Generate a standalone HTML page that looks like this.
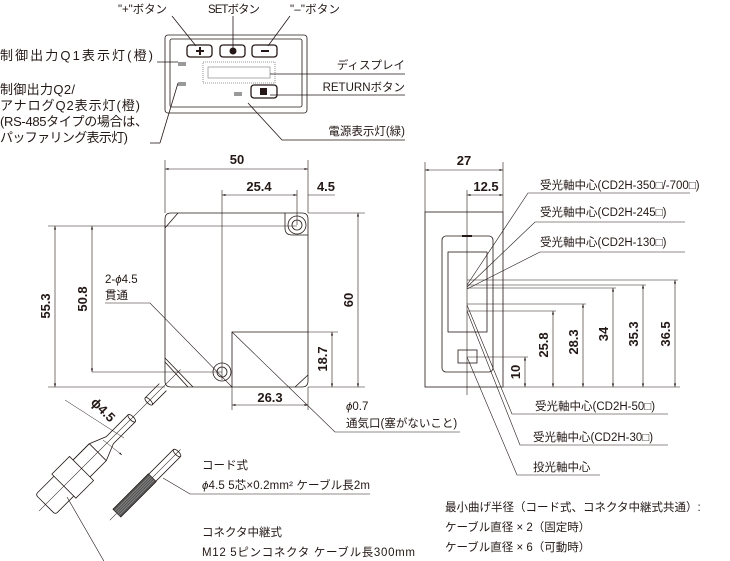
<!DOCTYPE html>
<html><head><meta charset="utf-8"><style>
html,body{margin:0;padding:0;background:#fff;width:730px;height:561px;overflow:hidden}
svg{display:block}
text{font-family:"Liberation Sans","Noto Sans CJK JP",sans-serif;fill:#231815;font-size:11.5px}
.b{font-weight:bold;font-size:13px}
.l{font-size:13px}
</style></head><body>
<svg width="730" height="561" viewBox="0 0 730 561" xmlns="http://www.w3.org/2000/svg">
<defs><marker id="a" viewBox="0 0 10 10" refX="10" refY="5" markerWidth="6" markerHeight="6" orient="auto-start-reverse"><path d="M0,2L10,5L0,8z" fill="#231815"/></marker></defs>
<g stroke="#231815" fill="none" stroke-width="0.8">
<rect x="165" y="35" width="142" height="78" rx="3"/>
<rect x="170" y="39" width="132" height="68" rx="2"/>
<rect x="187" y="45" width="25" height="12" rx="3" stroke-width="1.3"/>
<rect x="220" y="45" width="25" height="12" rx="3" stroke-width="1.3"/>
<rect x="252" y="45" width="25" height="12" rx="3" stroke-width="1.3"/>
<rect x="203" y="62" width="72" height="21" stroke-dasharray="1 1" stroke="#777"/>
<rect x="208" y="67" width="62" height="11" stroke="#999"/>
<rect x="251" y="85" width="26" height="13" rx="3" stroke-width="1.3"/>
<line x1="157" y1="62" x2="178" y2="62"/>
<line x1="160" y1="143" x2="178" y2="83"/>
<line x1="160" y1="143" x2="150" y2="143"/>
<line x1="172" y1="16" x2="196" y2="46"/>
<line x1="233" y1="16" x2="233" y2="48"/>
<line x1="290" y1="16" x2="268" y2="46"/>
<line x1="270" y1="74" x2="405" y2="74"/>
<line x1="270" y1="95" x2="405" y2="95"/>
<polyline points="248,103 282,140 405,140"/>
<path d="M171,213H302Q308,213 308,219V381Q308,387 302,387H171Q165,387 165,381V219Q165,213 171,213Z"/>
<line x1="165" y1="228" x2="178" y2="213"/>
<line x1="295" y1="387" x2="308" y2="375"/>
<path d="M285,213V228Q285,235 292,235H308"/>
<circle cx="297" cy="225" r="9"/><circle cx="297" cy="225" r="5"/>
<circle cx="222" cy="372" r="9"/><circle cx="222" cy="372" r="5"/>
<path d="M165,358L193,387"/><path d="M165,362L188,387"/>
<polyline points="232,387 232,332 308,332"/>
<g stroke-width="0.6">
<line x1="165" y1="213" x2="165" y2="160"/><line x1="308" y1="213" x2="308" y2="160"/>
<line x1="165" y1="169" x2="308" y2="169" marker-start="url(#a)" marker-end="url(#a)"/>
<line x1="222" y1="190" x2="222" y2="380"/><line x1="297" y1="190" x2="297" y2="225"/>
<line x1="222" y1="195" x2="297" y2="195" marker-start="url(#a)" marker-end="url(#a)"/>
<line x1="308" y1="195" x2="335" y2="195"/>
<line x1="308" y1="213" x2="365" y2="213"/><line x1="308" y1="387" x2="365" y2="387"/>
<line x1="358" y1="213" x2="358" y2="387" marker-start="url(#a)" marker-end="url(#a)"/>
<line x1="48" y1="226" x2="297" y2="226"/><line x1="48" y1="387" x2="165" y2="387"/>
<line x1="55" y1="226" x2="55" y2="387" marker-start="url(#a)" marker-end="url(#a)"/>
<line x1="92" y1="372" x2="222" y2="372"/>
<line x1="92" y1="226" x2="92" y2="372" marker-start="url(#a)" marker-end="url(#a)"/>
<line x1="308" y1="332" x2="338" y2="332"/>
<line x1="332" y1="332" x2="332" y2="387" marker-start="url(#a)" marker-end="url(#a)"/>
<line x1="232" y1="387" x2="232" y2="410"/><line x1="308" y1="387" x2="308" y2="410"/>
<line x1="232" y1="405" x2="308" y2="405" marker-start="url(#a)" marker-end="url(#a)"/>
<polyline points="105,303 150,303 232,387"/>
<polyline points="232,332 335,432 460,432"/>
</g>
<g transform="translate(177,373) rotate(135)">
<line x1="-5" y1="0" x2="195" y2="0" stroke-width="0.5"/>
<path d="M20,-5H40M20,5H40"/>
<ellipse cx="40" cy="0" rx="2" ry="5"/>
<path d="M64,-5H95L112,-12H135M64,5H95L112,12H135M135,-17H160V17H135Z M112,-12V12"/>
<path d="M112,12H135"/>
<ellipse cx="64" cy="0" rx="2" ry="5"/>
<path d="M160,-14H183Q186,-14 186,-11V11Q186,14 183,14H160"/>
</g>
<g stroke-width="0.5">
<line x1="65" y1="400" x2="124" y2="438"/>
<line x1="103" y1="440" x2="122" y2="455" marker-end="url(#a)"/>
</g>
<g transform="translate(177,453) rotate(135)">
<line x1="-5" y1="0" x2="95" y2="0" stroke-width="0.5"/>
<path d="M0,-5H35M0,5H35"/>
<ellipse cx="0" cy="0" rx="2" ry="5"/>
<rect x="35" y="-5.5" width="50" height="11" fill="#555"/>
<path d="M35,-3H85M35,-1H85M35,1H85M35,3H85" stroke="#ddd" stroke-width="0.4"/>
</g>
<polyline points="163,478 190,494 370,494" stroke-width="0.6"/>
<polyline points="67,497 105,563 415,563" stroke-width="0.6"/>
<rect x="425" y="212" width="78" height="175"/>
<rect x="442" y="236" width="51" height="136" rx="4"/>
<rect x="448" y="252" width="39" height="80"/>
<rect x="458" y="350" width="19" height="13"/>
<line x1="462" y1="236" x2="472" y2="236" stroke-width="2"/>
<g stroke-width="0.6">
<line x1="467" y1="190" x2="467" y2="395"/>
<line x1="425" y1="212" x2="425" y2="162"/><line x1="503" y1="212" x2="503" y2="162"/>
<line x1="425" y1="170" x2="503" y2="170" marker-start="url(#a)" marker-end="url(#a)"/>
<line x1="467" y1="195" x2="503" y2="195" marker-start="url(#a)" marker-end="url(#a)"/>
<line x1="503" y1="387" x2="680" y2="387"/>
<line x1="467" y1="357" x2="528" y2="357"/><line x1="525" y1="357" x2="525" y2="387" marker-start="url(#a)" marker-end="url(#a)"/>
<line x1="467" y1="311" x2="556" y2="311"/><line x1="553" y1="311" x2="553" y2="387" marker-start="url(#a)" marker-end="url(#a)"/>
<line x1="467" y1="304" x2="586" y2="304"/><line x1="583" y1="304" x2="583" y2="387" marker-start="url(#a)" marker-end="url(#a)"/>
<line x1="467" y1="288" x2="616" y2="288"/><line x1="613" y1="288" x2="613" y2="387" marker-start="url(#a)" marker-end="url(#a)"/>
<line x1="467" y1="285" x2="646" y2="285"/><line x1="643" y1="285" x2="643" y2="387" marker-start="url(#a)" marker-end="url(#a)"/>
<line x1="467" y1="280" x2="678" y2="280"/><line x1="675" y1="280" x2="675" y2="387" marker-start="url(#a)" marker-end="url(#a)"/>
<polyline points="467,285 528,193 690,193"/>
<polyline points="467,287 535,222 685,222"/>
<polyline points="467,289 540,252 685,252"/>
<polyline points="467,305 512,414 668,414"/>
<polyline points="467,311 520,445 668,445"/>
<polyline points="467,357 517,475 600,475"/>
</g>
</g>
<g fill="#231815">
<rect x="199" y="47" width="2" height="8"/><rect x="196" y="50" width="8" height="2"/>
<circle cx="233" cy="51" r="3.5"/>
<rect x="261" y="50" width="8" height="2"/>
<rect x="260" y="88" width="7" height="7"/>
<rect x="178" y="62" width="8" height="4" fill="#999"/><rect x="178" y="82" width="8" height="4" fill="#999"/><rect x="234" y="92" width="8" height="4" fill="#999"/>
</g>
<text x="118" y="13" textLength="49">"+"ボタン</text>
<text x="208" y="13" textLength="52">SETボタン</text>
<text x="290" y="13" textLength="50">"–"ボタン</text>
<text class="l" x="0" y="60" textLength="153">制御出力Q1表示灯(橙)</text>
<text class="l" x="0" y="94" textLength="75">制御出力Q2/</text>
<text class="l" x="0" y="110" textLength="140">アナログQ2表示灯(橙)</text>
<text class="l" x="0" y="126" textLength="148">(RS-485タイプの場合は、</text>
<text class="l" x="0" y="142" textLength="128">パッファリング表示灯)</text>
<text x="405" y="69" text-anchor="end">ディスプレイ</text>
<text x="405" y="91" text-anchor="end">RETURNボタン</text>
<text x="405" y="135" text-anchor="end">電源表示灯(緑)</text>
<text class="b" x="237" y="164" text-anchor="middle">50</text>
<text class="b" x="259" y="191" text-anchor="middle">25.4</text>
<text class="b" x="326" y="191" text-anchor="middle">4.5</text>
<text class="b" x="353" y="300" text-anchor="middle" transform="rotate(-90 353 300)">60</text>
<text class="b" x="50" y="306" text-anchor="middle" transform="rotate(-90 50 306)">55.3</text>
<text class="b" x="87" y="299" text-anchor="middle" transform="rotate(-90 87 299)">50.8</text>
<text class="b" x="327" y="359" text-anchor="middle" transform="rotate(-90 327 359)">18.7</text>
<text class="b" x="270" y="402" text-anchor="middle">26.3</text>
<text x="105" y="283">2-<tspan font-style="italic">ϕ</tspan>4.5</text>
<text x="105" y="299">貫通</text>
<text x="346" y="410"><tspan font-style="italic">ϕ</tspan>0.7</text>
<text x="346" y="427">通気口(塞がないこと)</text>
<text class="b" x="100" y="413" transform="rotate(45 100 413)" text-anchor="middle">ϕ4.5</text>
<text x="202" y="469">コード式</text>
<text x="202" y="489" textLength="168"><tspan font-style="italic">ϕ</tspan>4.5 5芯×0.2mm² ケーブル長2m</text>
<text x="202" y="536">コネクタ中継式</text>
<text x="202" y="556" textLength="213">M12 5ピンコネクタ ケーブル長300mm</text>
<text class="b" x="464" y="165" text-anchor="middle">27</text>
<text class="b" x="486" y="191" text-anchor="middle">12.5</text>
<text class="b" x="520" y="372" text-anchor="middle" transform="rotate(-90 520 372)">10</text>
<text class="b" x="548" y="345" text-anchor="middle" transform="rotate(-90 548 345)">25.8</text>
<text class="b" x="578" y="342" text-anchor="middle" transform="rotate(-90 578 342)">28.3</text>
<text class="b" x="608" y="334" text-anchor="middle" transform="rotate(-90 608 334)">34</text>
<text class="b" x="638" y="334" text-anchor="middle" transform="rotate(-90 638 334)">35.3</text>
<text class="b" x="670" y="334" text-anchor="middle" transform="rotate(-90 670 334)">36.5</text>
<text x="540" y="189">受光軸中心(CD2H-350□/-700□)</text>
<text x="540" y="216">受光軸中心(CD2H-245□)</text>
<text x="540" y="246">受光軸中心(CD2H-130□)</text>
<text x="535" y="410">受光軸中心(CD2H-50□)</text>
<text x="533" y="441">受光軸中心(CD2H-30□)</text>
<text x="533" y="471">投光軸中心</text>
<text x="445" y="511">最小曲げ半径（コード式、コネクタ中継式共通）:</text>
<text x="445" y="531">ケーブル直径 × 2（固定時）</text>
<text x="445" y="551">ケーブル直径 × 6（可動時）</text>
</svg>
</body></html>
